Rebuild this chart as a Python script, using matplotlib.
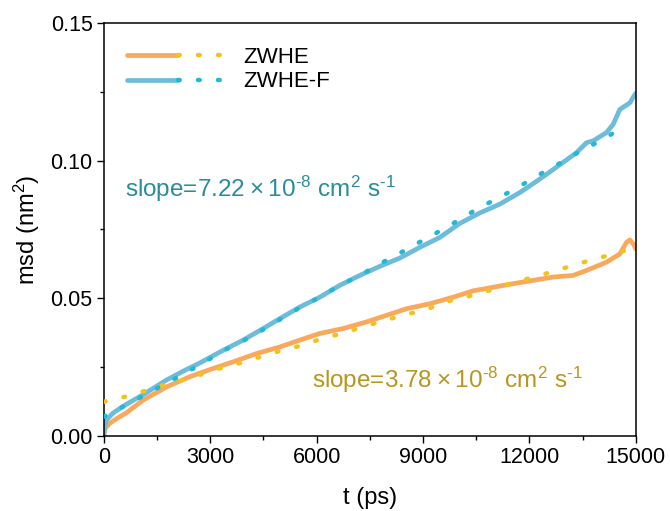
import matplotlib
matplotlib.use('Agg')
import matplotlib.pyplot as plt
from matplotlib.legend_handler import HandlerTuple

plt.rcParams['font.family'] = ['Liberation Sans', 'DejaVu Sans']
plt.rcParams['mathtext.fontset'] = 'custom'
plt.rcParams['mathtext.rm'] = 'Liberation Sans'
plt.rcParams['mathtext.default'] = 'regular'

# ZWHE msd (solid)
t_zwhe = [0, 15, 50, 169, 400, 640, 1108, 1768, 2425, 3082, 3646, 4305, 4962, 5526,
          6090, 6748, 7405, 7970, 8534, 9192, 9850, 10413, 10977, 11541, 12105, 12669,
          13233, 13609, 14173, 14549, 14737, 14831, 14944, 15000]
msd_zwhe = [0.0, 0.0018, 0.0030, 0.0046, 0.0066, 0.0084, 0.0130, 0.0178, 0.0215,
            0.0245, 0.0269, 0.0299, 0.0323, 0.0348, 0.0372, 0.0390, 0.0414, 0.0438,
            0.0462, 0.0480, 0.0504, 0.0527, 0.0540, 0.0553, 0.0565, 0.0577, 0.0583,
            0.0601, 0.0631, 0.0661, 0.0703, 0.0712, 0.0695, 0.0679]

# ZWHE fit (dotted)
t_zwhe_fit = [0, 592, 1249, 1861, 2425, 3082, 3646, 4257, 4868, 5526, 6090, 6701,
              7311, 7923, 8534, 9145, 9709, 10368, 10977, 11588, 12199, 12811,
              13420, 14032, 14690, 14900]
fit_zwhe = [0.0124, 0.0142, 0.0167, 0.0191, 0.0209, 0.0239, 0.0257, 0.0281, 0.0305,
            0.0327, 0.0351, 0.0372, 0.0396, 0.0420, 0.0441, 0.0462, 0.0489, 0.0510,
            0.0532, 0.0559, 0.0579, 0.0603, 0.0627, 0.0649, 0.0673, 0.0681]

# ZWHE-F msd (solid)
t_zwhef = [0, 15, 40, 75, 250, 545, 1108, 1768, 2236, 2707, 3364, 3928, 4491, 4962,
           5526, 6090, 6654, 7218, 7782, 8346, 8910, 9474, 10038, 10602, 11165, 11729,
           12293, 12857, 13327, 13609, 13797, 14173, 14361, 14549, 14690, 14831,
           14944, 15000]
msd_zwhef = [0.0, 0.0025, 0.0042, 0.0058, 0.0082, 0.0108, 0.0150, 0.0203, 0.0235,
             0.0265, 0.0311, 0.0348, 0.0390, 0.0426, 0.0468, 0.0504, 0.0547, 0.0583,
             0.0616, 0.0646, 0.0685, 0.0721, 0.0772, 0.0810, 0.0842, 0.0884, 0.0933,
             0.0985, 0.1029, 0.1065, 0.1072, 0.1102, 0.1132, 0.1186, 0.1198, 0.1210,
             0.1234, 0.1245]

# ZWHE-F fit (dotted)
t_zwhef_fit = [0, 545, 1108, 1672, 2236, 2800, 3364, 3928, 4491, 5009, 5526, 6090,
               6654, 7218, 7782, 8346, 8891, 9455, 10009, 10555, 11118, 11664, 12218,
               12781, 13327, 13891, 14436, 14600]
fit_zwhef = [0.0070, 0.0106, 0.0145, 0.0185, 0.0224, 0.0265, 0.0309, 0.0345, 0.0386,
             0.0426, 0.0466, 0.0504, 0.0547, 0.0583, 0.0625, 0.0664, 0.0703, 0.0743,
             0.0784, 0.0827, 0.0864, 0.0902, 0.0945, 0.0985, 0.1026, 0.1065, 0.1105,
             0.1115]

fig = plt.figure(figsize=(6.7, 5.11), dpi=100)
ax = fig.add_axes([0.155, 0.147, 0.794, 0.808])

dot = dict(linestyle=(0, (0.4, 4.1)), dash_capstyle='round', linewidth=3.2)
l1, = ax.plot(t_zwhe, msd_zwhe, color='#f8a95c', linewidth=3.4, solid_capstyle='round',
              solid_joinstyle='round', zorder=2)
d1, = ax.plot(t_zwhe_fit, fit_zwhe, color='#f4c21f', zorder=3, **dot)
l2, = ax.plot(t_zwhef, msd_zwhef, color='#6dbcd9', linewidth=3.4, solid_capstyle='round',
              solid_joinstyle='round', zorder=2)
d2, = ax.plot(t_zwhef_fit, fit_zwhef, color='#22b8d8', zorder=3, **dot)

ax.set_xlim(0, 15000)
ax.set_ylim(0, 0.15)
ax.set_xticks([0, 3000, 6000, 9000, 12000, 15000])
ax.set_xticks([1500, 4500, 7500, 10500, 13500], minor=True)
ax.set_yticks([0.0, 0.05, 0.10, 0.15])
ax.set_yticks([0.025, 0.075, 0.125], minor=True)
ax.set_yticklabels(['0.00', '0.05', '0.10', '0.15'])
ax.tick_params(which='major', direction='out', length=5, width=1, labelsize=15.5, pad=3)
ax.tick_params(which='minor', direction='out', length=3, width=1)
for s in ax.spines.values():
    s.set_linewidth(1.1)

ax.set_xlabel('t (ps)', fontsize=17, labelpad=14)
ax.set_ylabel('msd (nm$^2$)', fontsize=17, labelpad=6)

ax.text(592, 0.0898, 'slope=$7.22\\times10^{\u20108}$ cm$^2$ s$^{\u20101}$', color='#2a8c99',
        fontsize=17.5, va='center', ha='left')
ax.text(5865, 0.0203, 'slope=$3.78\\times10^{\u20108}$ cm$^2$ s$^{\u20101}$', color='#b8961e',
        fontsize=17.5, va='center', ha='left')

ax.legend([(l1, d1), (l2, d2)], ['ZWHE', 'ZWHE-F'],
          handler_map={tuple: HandlerTuple(ndivide=2, pad=0)},
          loc='upper left', frameon=False, fontsize=16, handlelength=4.6,
          handletextpad=0.65, labelspacing=0.15, borderaxespad=0.4, bbox_to_anchor=(0.01, 0.985))

fig.savefig('out.png', dpi=100)
